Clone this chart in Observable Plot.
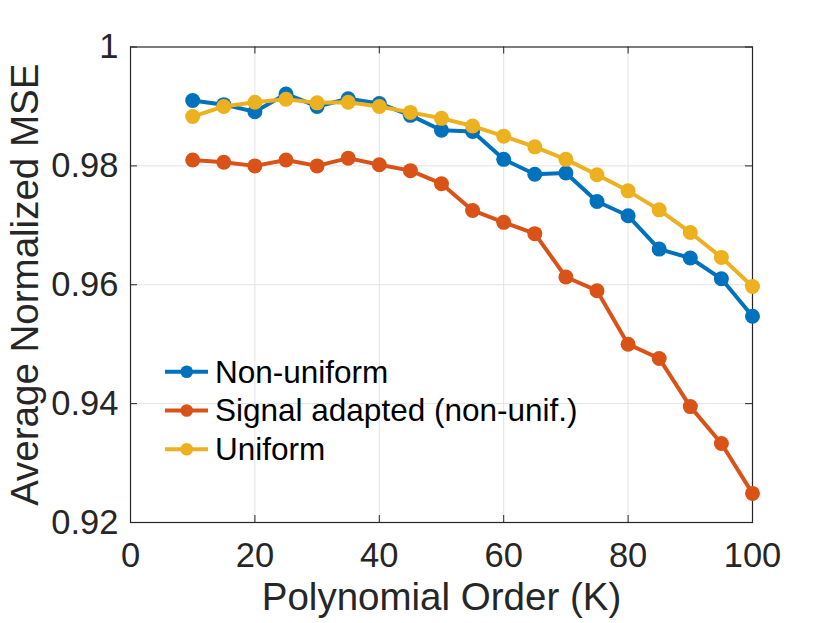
<!DOCTYPE html>
<html>
<head>
<meta charset="utf-8">
<script src="https://cdn.jsdelivr.net/npm/d3@7"></script>
<script src="https://cdn.jsdelivr.net/npm/@observablehq/plot@0.6"></script>
<style>
  html, body { margin: 0; padding: 0; background: #fff; }
  #wrap { position: relative; width: 830px; height: 623px; font-family: "Liberation Sans", Arial, Helvetica, sans-serif; }
  #legend { position: absolute; left: 0; top: 0; pointer-events: none; }
</style>
</head>
<body>
<div id="wrap"></div>
<script>
const K = [10, 15, 20, 25, 30, 35, 40, 45, 50, 55, 60, 65, 70, 75, 80, 85, 90, 95, 100];
const nonUniform = [0.9910, 0.9903, 0.9891, 0.9921, 0.9900, 0.9913, 0.9905, 0.9885, 0.9860, 0.9858, 0.9811, 0.9786, 0.9788, 0.9740, 0.9716, 0.9660, 0.9645, 0.9610, 0.9547];
const signalAdapted = [0.9810, 0.9806, 0.9800, 0.9810, 0.9800, 0.9813, 0.9802, 0.9792, 0.9770, 0.9725, 0.9705, 0.9686, 0.9613, 0.9590, 0.9500, 0.9476, 0.9395, 0.9333, 0.9249];
const uniform = [0.9883, 0.9900, 0.9907, 0.9912, 0.9906, 0.9907, 0.9900, 0.9890, 0.9880, 0.9867, 0.9850, 0.9832, 0.9811, 0.9785, 0.9758, 0.9726, 0.9688, 0.9646, 0.9597];
const seriesNames = ["Non-uniform", "Signal adapted (non-unif.)", "Uniform"];
const seriesColors = ["#0072BD", "#D95319", "#EDB120"];
const xTicks = [0, 20, 40, 60, 80, 100];
const yTicks = [0.92, 0.94, 0.96, 0.98, 1];
const xLabel = "Polynomial Order (K)";
const yLabel = "Average Normalized MSE";

const seriesValues = [nonUniform, signalAdapted, uniform];
const data = seriesNames.flatMap((name, i) => K.map((k, j) => ({k, v: seriesValues[i][j], s: name})));

const W = 830, H = 623;
const mL = 130, mR = 78, mT = 46.5, mB = 101;
const innerH = H - mT - mB, innerW = W - mL - mR;
const tickLen = 7;
const font = '"Liberation Sans", Arial, Helvetica, sans-serif';

const marks = [
  Plot.gridX(xTicks.slice(1, -1), {stroke: "#e3e3e3", strokeOpacity: 1, strokeWidth: 1}),
  Plot.gridY(yTicks.slice(1, -1), {stroke: "#e3e3e3", strokeOpacity: 1, strokeWidth: 1}),
  Plot.frame({stroke: "#262626", strokeWidth: 1.2}),
  Plot.tickX(xTicks, {x: d => d, insetTop: innerH - tickLen, stroke: "#262626"}),
  Plot.tickX(xTicks, {x: d => d, insetBottom: innerH - tickLen, stroke: "#262626"}),
  Plot.tickY(yTicks, {y: d => d, insetRight: innerW - tickLen, stroke: "#262626"}),
  Plot.tickY(yTicks, {y: d => d, insetLeft: innerW - tickLen, stroke: "#262626"}),
  Plot.axisX(xTicks, {tickSize: 0, tickPadding: 20, fontSize: 34.5, fill: "#262626", label: null}),
  Plot.axisY(yTicks, {tickSize: 0, tickPadding: 12, fontSize: 34.5, fill: "#262626", label: null, tickFormat: d => String(+d.toFixed(2))}),
  Plot.text([xLabel], {frameAnchor: "bottom", dy: 75, lineAnchor: "middle", fontSize: 38.5, fill: "#262626", text: d => d}),
  Plot.text([yLabel], {frameAnchor: "left", dx: -105, rotate: -90, lineAnchor: "middle", textAnchor: "middle", fontSize: 38.5, fill: "#262626", text: d => d})
];
seriesNames.forEach((name, i) => {
  const d = data.filter(r => r.s === name);
  marks.push(Plot.line(d, {x: "k", y: "v", stroke: seriesColors[i], strokeWidth: 4}));
  marks.push(Plot.dot(d, {x: "k", y: "v", fill: seriesColors[i], r: 7.5, stroke: "none"}));
});

const chart = Plot.plot({
  width: W, height: H,
  marginLeft: mL, marginRight: mR, marginTop: mT, marginBottom: mB,
  x: {domain: [0, 100], axis: null},
  y: {domain: [0.92, 1], axis: null},
  style: {fontFamily: font, background: "#fff", overflow: "visible"},
  marks
});
const wrap = document.getElementById("wrap");
wrap.appendChild(chart);

// Legend inside the axes (no box)
const leg = d3.select(wrap).append("svg")
  .attr("id", "legend").attr("width", W).attr("height", H);
const rowY = [371.7, 410.5, 449.2];
seriesNames.forEach((name, i) => {
  const g = leg.append("g").attr("transform", `translate(0,${rowY[i]})`);
  g.append("line").attr("x1", 165).attr("x2", 208).attr("y1", 0).attr("y2", 0)
    .attr("stroke", seriesColors[i]).attr("stroke-width", 4);
  g.append("circle").attr("cx", 186.7).attr("cy", 0).attr("r", 6.3).attr("fill", seriesColors[i]);
  g.append("text").attr("x", 215).attr("y", 10.8).attr("font-size", 31.5)
    .attr("font-family", font).attr("fill", "#000").text(name);
});
</script>
</body>
</html>
